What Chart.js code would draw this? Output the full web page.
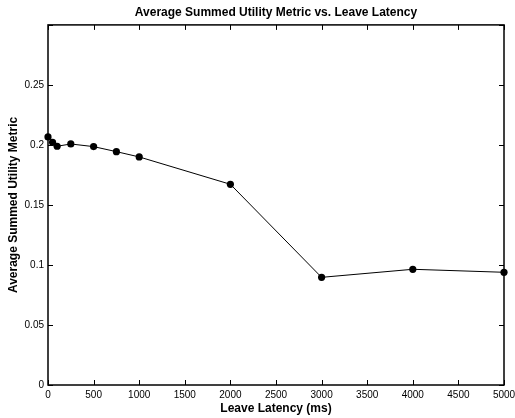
<!DOCTYPE html>
<html>
<head>
<meta charset="utf-8">
<script src="https://cdn.jsdelivr.net/npm/chart.js@4/dist/chart.umd.min.js"></script>
<style>
html,body{margin:0;padding:0;background:#fff;}
#wrap{width:515px;height:418px;position:relative;}
</style>
</head>
<body>
<div id="wrap"><canvas id="c" width="515" height="418"></canvas></div>
<script>
const latencies = [0, 50, 100, 250, 500, 750, 1000, 2000, 3000, 4000, 5000];
const utility = [0.2067, 0.2022, 0.1989, 0.2008, 0.1986, 0.1944, 0.1900, 0.1672, 0.0897, 0.0964, 0.0939];
const xTicks = [0, 500, 1000, 1500, 2000, 2500, 3000, 3500, 4000, 4500, 5000];
const yTicks = [0, 0.05, 0.1, 0.15, 0.2, 0.25, 0.3];
const yTickLabels = ['0', '0.05', '0.1', '0.15', '0.2', '0.25', ''];

const FONT = '"Liberation Sans", Arial, Helvetica, sans-serif';

const boxPlugin = {
  id: 'box',
  afterDraw(chart) {
    const ctx = chart.ctx;
    const a = chart.chartArea;
    const xs = chart.scales.x, ys = chart.scales.y;
    const L = 5;
    ctx.save();
    ctx.strokeStyle = '#000';
    ctx.lineWidth = 1;
    ctx.beginPath();
    xTicks.forEach(v => {
      const px = Math.round(xs.getPixelForValue(v)) + 0.5;
      ctx.moveTo(px, a.bottom); ctx.lineTo(px, a.bottom - L);
      ctx.moveTo(px, a.top); ctx.lineTo(px, a.top + L);
    });
    yTicks.forEach(v => {
      const py = Math.round(ys.getPixelForValue(v)) + 0.5;
      ctx.moveTo(a.left, py); ctx.lineTo(a.left + L, py);
      ctx.moveTo(a.right, py); ctx.lineTo(a.right - L, py);
    });
    ctx.stroke();
    ctx.lineWidth = 1.5;
    ctx.strokeRect(a.left, a.top, a.right - a.left, a.bottom - a.top);
    ctx.restore();
  }
};

new Chart(document.getElementById('c'), {
  type: 'line',
  data: {
    datasets: [{
      data: latencies.map((x, i) => ({x: x, y: utility[i]})),
      borderColor: '#000',
      backgroundColor: '#000',
      borderWidth: 1,
      pointRadius: 3.6,
      pointHoverRadius: 3.6,
      pointBackgroundColor: '#000',
      pointBorderColor: '#000',
      pointBorderWidth: 0,
      tension: 0,
      clip: false
    }]
  },
  options: {
    responsive: false,
    animation: false,
    events: [],
    layout: {padding: {left: 0, right: 11, top: 0, bottom: 0}},
    plugins: {
      legend: {display: false},
      tooltip: {enabled: false},
      title: {
        display: true,
        fullSize: false,
        text: 'Average Summed Utility Metric vs. Leave Latency',
        color: '#000',
        font: {family: FONT, size: 12, weight: 'bold'},
        padding: {top: 5.5, bottom: 5}
      }
    },
    scales: {
      x: {
        type: 'linear',
        min: 0, max: 5000,
        afterBuildTicks: s => { s.ticks = xTicks.map(v => ({value: v})); },
        afterFit: s => { s.height = 33; s.paddingLeft = 0; s.paddingRight = 0; },
        grid: {display: false, drawTicks: false},
        border: {display: false},
        ticks: {
          color: '#000', padding: 4, maxRotation: 0, autoSkip: false,
          font: {family: FONT, size: 10},
          callback: v => String(v)
        },
        title: {
          display: true, text: 'Leave Latency (ms)', color: '#000',
          font: {family: FONT, size: 12, weight: 'bold'},
          padding: {top: 0, bottom: 1.8}
        }
      },
      y: {
        type: 'linear',
        min: 0, max: 0.3,
        afterBuildTicks: s => { s.ticks = yTicks.map(v => ({value: v})); },
        afterFit: s => { s.width = 48; s.paddingTop = 0; s.paddingBottom = 0; },
        grid: {display: false, drawTicks: false},
        border: {display: false},
        ticks: {
          color: '#000', padding: 4, autoSkip: false,
          font: {family: FONT, size: 10},
          callback: (v, i) => yTickLabels[yTicks.indexOf(v)] ?? ''
        },
        title: {
          display: true, text: 'Average Summed Utility Metric', color: '#000',
          font: {family: FONT, size: 12, weight: 'bold'},
          padding: {top: 6.3, bottom: 0}
        }
      }
    }
  },
  plugins: [boxPlugin]
});
</script>
</body>
</html>
